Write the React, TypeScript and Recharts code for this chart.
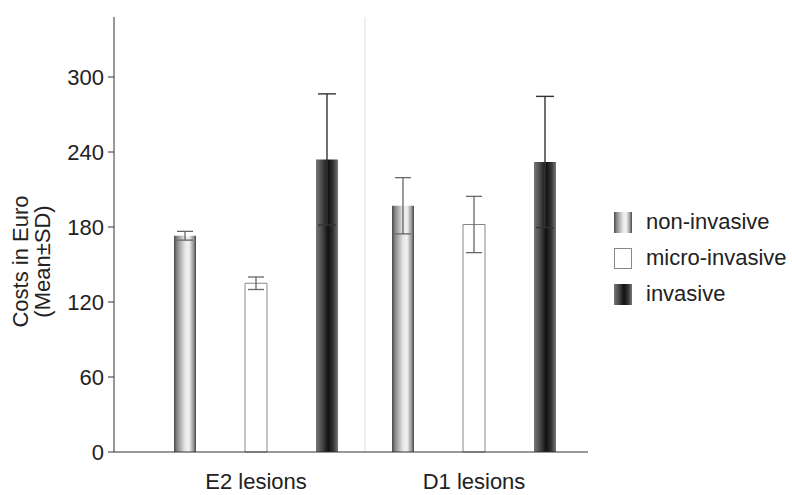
import {
  Bar,
  BarChart,
  ErrorBar,
  Legend,
  ReferenceLine,
  XAxis,
  YAxis,
} from 'recharts';

const categories = ['E2 lesions', 'D1 lesions'];
const nonInvasive = [173, 197];
const nonInvasiveSd = [3.5, 22.5];
const microInvasive = [135, 182];
const microInvasiveSd = [5, 22.5];
const invasive = [234, 232];
const invasiveSd = [52.5, 52.5];
const yTicks = [0, 60, 120, 180, 240, 300];

const seriesNames = ['non-invasive', 'micro-invasive', 'invasive'];

const FONT = '"Liberation Sans", Arial, sans-serif';

const data = categories.map((name, i) => ({
  name,
  nonInvasive: nonInvasive[i],
  nonInvasiveSd: nonInvasiveSd[i],
  microInvasive: microInvasive[i],
  microInvasiveSd: microInvasiveSd[i],
  invasive: invasive[i],
  invasiveSd: invasiveSd[i],
}));

// css versions of the bar gradients for the legend swatches
const swatches = [
  'linear-gradient(to right, #4a4a4a 0%, #8a8a8a 15%, #e6e6e6 50%, #f2f2f2 68%, #9a9a9a 88%, #444 100%)',
  '#ffffff',
  'linear-gradient(to right, #777 0%, #444 30%, #111 55%, #333 78%, #777 100%)',
];

const LegendBox = () => (
  <div style={{ fontFamily: FONT, fontSize: 22, color: '#222' }}>
    {seriesNames.map((name, i) => (
      <div
        key={name}
        style={{ display: 'flex', alignItems: 'center', height: 36 }}
      >
        <span
          style={{
            display: 'inline-block',
            width: 18,
            height: 21,
            background: swatches[i],
            border: i === 1 ? '1px solid #888' : 'none',
            boxSizing: 'border-box',
          }}
        />
        <span style={{ marginLeft: 14 }}>{name}</span>
      </div>
    ))}
  </div>
);

const YLabel = (props) => {
  const vb = props.viewBox || { x: 0, y: 17, width: 114, height: 435 };
  const cy = vb.y + vb.height / 2 + 27;
  const x1 = vb.x + 28;
  const x2 = vb.x + 50;
  const textStyle = { fontSize: 22, fontFamily: FONT, fill: '#222' };
  return (
    <g>
      <text
        x={x1}
        y={cy}
        textAnchor='middle'
        style={textStyle}
        transform={`rotate(-90, ${x1}, ${cy})`}
      >
        Costs in Euro
      </text>
      <text
        x={x2}
        y={cy}
        textAnchor='middle'
        style={textStyle}
        transform={`rotate(-90, ${x2}, ${cy})`}
      >
        (Mean±SD)
      </text>
    </g>
  );
};

const App = () => {
  return (
    <div style={{ position: 'absolute', left: 0, top: 0 }}>
      <BarChart
        width={792}
        height={495}
        data={data}
        margin={{ top: 17, right: 204, left: 0, bottom: 0 }}
        barSize={22}
        barGap={49}
      >
        <defs>
          <linearGradient id='gradNon' x1='0' y1='0' x2='1' y2='0'>
            <stop offset='0%' stopColor='#4a4a4a' />
            <stop offset='15%' stopColor='#8a8a8a' />
            <stop offset='50%' stopColor='#e6e6e6' />
            <stop offset='68%' stopColor='#f2f2f2' />
            <stop offset='88%' stopColor='#9a9a9a' />
            <stop offset='100%' stopColor='#444' />
          </linearGradient>
          <linearGradient id='gradInv' x1='0' y1='0' x2='1' y2='0'>
            <stop offset='0%' stopColor='#777' />
            <stop offset='30%' stopColor='#444' />
            <stop offset='55%' stopColor='#111' />
            <stop offset='78%' stopColor='#333' />
            <stop offset='100%' stopColor='#777' />
          </linearGradient>
        </defs>
        <XAxis
          dataKey='name'
          height={43}
          padding={{ left: 33, right: 5 }}
          axisLine={{ stroke: '#333', strokeWidth: 1.2 }}
          tickLine={false}
          tickSize={0}
          tickMargin={21}
          tick={{ fill: '#222', fontSize: 22, fontFamily: FONT }}
        />
        <YAxis
          width={114}
          domain={[0, 348]}
          ticks={yTicks}
          axisLine={{ stroke: '#333' }}
          tickLine={{ stroke: '#333' }}
          tickSize={6}
          tickMargin={4}
          tick={{ fill: '#222', fontSize: 22, fontFamily: FONT }}
          label={<YLabel />}
        />
        <ReferenceLine x='E2 lesions' position='end' stroke='#ddd' />
        <Legend
          layout='horizontal'
          verticalAlign='middle'
          content={<LegendBox />}
          wrapperStyle={{ left: 614, top: 204, width: 178 }}
        />
        <Bar
          dataKey='nonInvasive'
          name='non-invasive'
          fill='url(#gradNon)'
          isAnimationActive={false}
        >
          <ErrorBar
            dataKey='nonInvasiveSd'
            width={8}
            stroke='#666'
            strokeWidth={1.3}
            isAnimationActive={false}
          />
        </Bar>
        <Bar
          dataKey='microInvasive'
          name='micro-invasive'
          fill='#fff'
          stroke='#888'
          isAnimationActive={false}
        >
          <ErrorBar
            dataKey='microInvasiveSd'
            width={8}
            stroke='#666'
            strokeWidth={1.3}
            isAnimationActive={false}
          />
        </Bar>
        <Bar
          dataKey='invasive'
          name='invasive'
          fill='url(#gradInv)'
          isAnimationActive={false}
        >
          <ErrorBar
            dataKey='invasiveSd'
            width={9}
            stroke='#333'
            strokeWidth={1.4}
            isAnimationActive={false}
          />
        </Bar>
      </BarChart>
    </div>
  );
};

export default App;
